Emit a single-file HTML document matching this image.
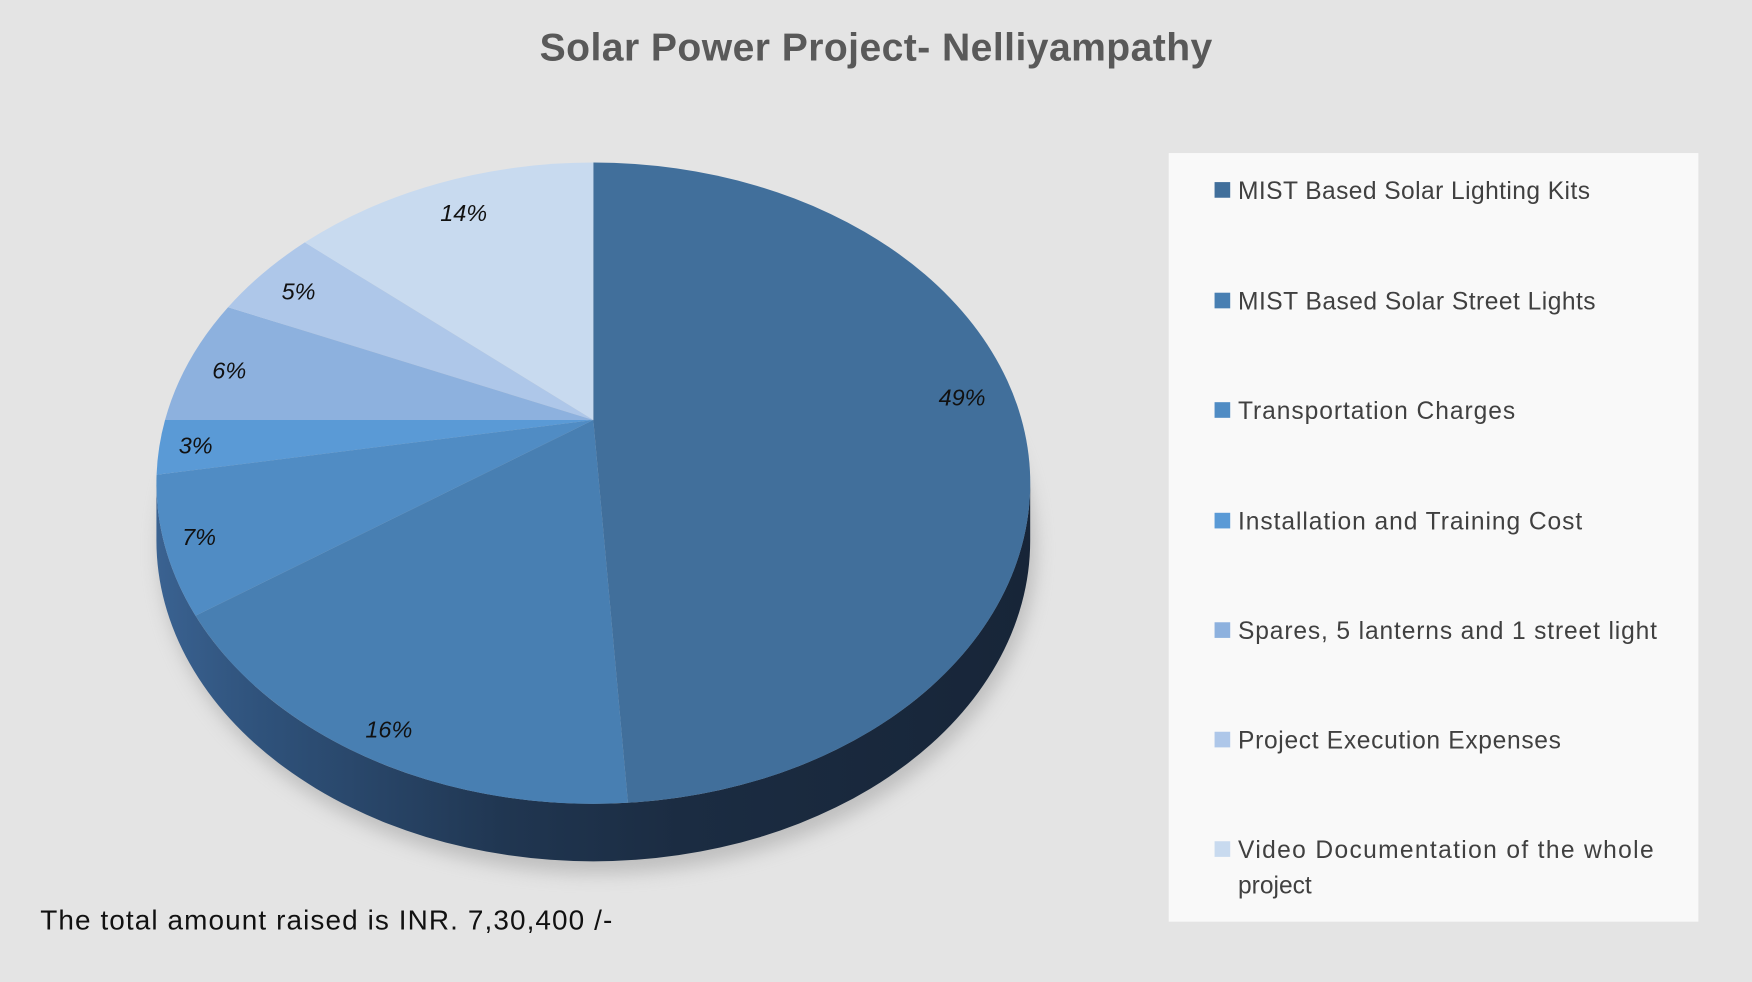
<!DOCTYPE html>
<html><head><meta charset="utf-8"><style>
html,body{margin:0;padding:0;background:#e4e4e4;}
svg{display:block;}
text{font-family:"Liberation Sans",sans-serif;}
</style></head><body>
<svg width="1752" height="982" viewBox="0 0 1568 879" preserveAspectRatio="none" xmlns="http://www.w3.org/2000/svg">
<defs>
<linearGradient id="side" x1="140" y1="0" x2="921" y2="0" gradientUnits="userSpaceOnUse">
<stop offset="0" stop-color="#3a6291"/>
<stop offset="0.12" stop-color="#2f527b"/>
<stop offset="0.4" stop-color="#203651"/>
<stop offset="0.6" stop-color="#1b2c42"/>
<stop offset="1" stop-color="#172538"/>
</linearGradient>
<filter id="blur" x="-20%" y="-20%" width="140%" height="140%"><feGaussianBlur stdDeviation="8"/></filter>
</defs>
<rect x="0" y="0" width="1568" height="879" fill="#e4e4e4"/>
<text x="483" y="54" textLength="602" font-size="35" font-weight="bold" fill="#595959">Solar Power Project- Nelliyampathy</text>
<ellipse cx="535" cy="492" rx="392" ry="290" fill="#9a9a9a" opacity="0.5" filter="url(#blur)"/>
<path d="M140,432.5 A391,287 0 0 0 922,432.5 L922,484 A391,287 0 0 1 140,484 Z" fill="url(#side)"/>
<path d="M531,376 L531,145.5 A391,287 0 0 1 562,718.6 Z" fill="#416f9b"/>
<path d="M531,376 L562,718.6 A391,287 0 0 1 175,551.2 Z" fill="#487fb2"/>
<path d="M531,376 L175,551.2 A391,287 0 0 1 140.13,425 Z" fill="#508cc4"/>
<path d="M531,376 L140.13,425 A391,287 0 0 1 147.7,376 Z" fill="#5a9ad6"/>
<path d="M531,376 L147.7,376 A391,287 0 0 1 204.1,275 Z" fill="#8db1de"/>
<path d="M531,376 L204.1,275 A391,287 0 0 1 272.8,217 Z" fill="#aec7e9"/>
<path d="M531,376 L272.8,217 A391,287 0 0 1 531,145.5 Z" fill="#c8daef"/>
<g font-size="21" font-style="italic" fill="#111">
<text x="840" y="363">49%</text>
<text x="327" y="660">16%</text>
<text x="163" y="488">7%</text>
<text x="160" y="406">3%</text>
<text x="190" y="339">6%</text>
<text x="252" y="268">5%</text>
<text x="394" y="198">14%</text>
</g>
<rect x="1046" y="137" width="474" height="688" fill="#f9f9f9"/>
<g font-size="22" fill="#404040">
<rect x="1087" y="163" width="14" height="14" fill="#416f9b"/><text x="1108" y="178" textLength="315">MIST Based Solar Lighting Kits</text>
<rect x="1087" y="262" width="14" height="14" fill="#487fb2"/><text x="1108" y="277" textLength="320">MIST Based Solar Street Lights</text>
<rect x="1087" y="360" width="14" height="14" fill="#508cc4"/><text x="1108" y="375" textLength="248">Transportation Charges</text>
<rect x="1087" y="459" width="14" height="14" fill="#5a9ad6"/><text x="1108" y="474" textLength="308">Installation and Training Cost</text>
<rect x="1087" y="557" width="14" height="14" fill="#8db1de"/><text x="1108" y="572" textLength="375">Spares, 5 lanterns and 1 street light</text>
<rect x="1087" y="655" width="14" height="14" fill="#aec7e9"/><text x="1108" y="670" textLength="289">Project Execution Expenses</text>
<rect x="1087" y="753" width="14" height="14" fill="#c8daef"/><text x="1108" y="768" textLength="372">Video Documentation of the whole</text>
<text x="1108" y="800">project</text>
</g>
<text x="36" y="832" font-size="25" fill="#111" textLength="512">The total amount raised is INR. 7,30,400 /-</text>
</svg>
</body></html>
